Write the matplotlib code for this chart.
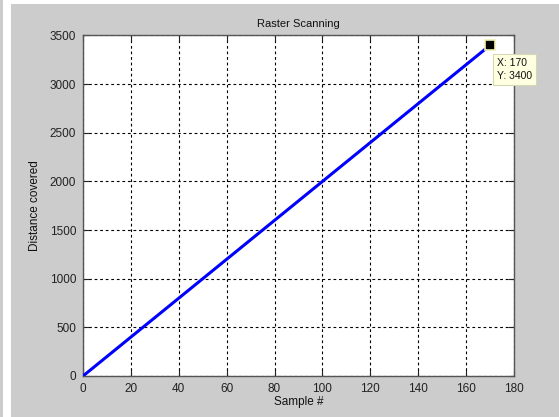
import matplotlib
matplotlib.use("Agg")
import matplotlib.pyplot as plt
from matplotlib.patches import Rectangle

# Sample index and distance covered along the raster path
samples = [0, 10, 20, 30, 40, 50, 60, 70, 80, 90, 100, 110, 120, 130, 140, 150, 160, 168]
distance = [0, 200, 400, 600, 800, 1000, 1200, 1400, 1600, 1800, 2000, 2200, 2400, 2600, 2800, 3000, 3200, 3360]

tip_x = 170
tip_y = 3400

xticks = [0, 20, 40, 60, 80, 100, 120, 140, 160, 180]
yticks = [0, 500, 1000, 1500, 2000, 2500, 3000, 3500]

W, H = 559, 417
fig = plt.figure(figsize=(W / 100, H / 100), dpi=100)
fig.patch.set_facecolor("#cccccc")
plt.rcParams["font.family"] = ["Liberation Sans", "DejaVu Sans"]

# white frame strips on the left and top edge
fig.add_artist(Rectangle((3 / W, 0), 8 / W, 1, transform=fig.transFigure,
                         facecolor="white", edgecolor="none", zorder=0))
fig.add_artist(Rectangle((3 / W, 1 - 4 / H), 1, 4 / H, transform=fig.transFigure,
                         facecolor="white", edgecolor="none", zorder=0))

left, right, top, bottom = 83, 514, 35.5, 376
ax = fig.add_axes([left / W, 1 - bottom / H, (right - left) / W, (bottom - top) / H])
ax.set_facecolor("white")

ax.plot(samples, distance, color="#0000ff", lw=2.2, solid_capstyle="round", zorder=3)

ax.set_xlim(0, 180)
ax.set_ylim(0, 3500)
ax.set_xticks(xticks)
ax.set_yticks(yticks)
ax.grid(True, color="black", linestyle=(0, (2.5, 2.5)), linewidth=0.8)
ax.tick_params(direction="in", length=4, width=0.8, colors="#222222",
               labelsize=8.5, labelcolor="#222222", top=True, right=True)
ax.tick_params(axis="x", pad=5)
ax.tick_params(axis="y", pad=5)
for s in ax.spines.values():
    s.set_color("#555555")
    s.set_linewidth(1.0)

ax.set_title("Raster Scanning", fontsize=8, color="#111111", pad=6)
ax.set_xlabel("Sample #", fontsize=8.5, color="#111111", labelpad=1)
ax.set_ylabel("Distance covered", fontsize=8.5, color="#111111", labelpad=6)

# data tip
ax.plot([tip_x], [tip_y], marker="s", markersize=7, markerfacecolor="black",
        markeredgecolor="#f0f0b0", markeredgewidth=1.2, zorder=5, clip_on=False)
ax.annotate(f"X: {tip_x}\nY: {tip_y}", xy=(tip_x, tip_y), xytext=(5, -9),
            textcoords="offset points", ha="left", va="top", fontsize=7.5,
            color="#111111", linespacing=1.35, zorder=6, annotation_clip=False,
            bbox=dict(boxstyle="square,pad=0.4", facecolor="#ffffe1",
                      edgecolor="#d8d8b0", linewidth=0.8))

fig.savefig("out.png", dpi=100, facecolor=fig.get_facecolor())
